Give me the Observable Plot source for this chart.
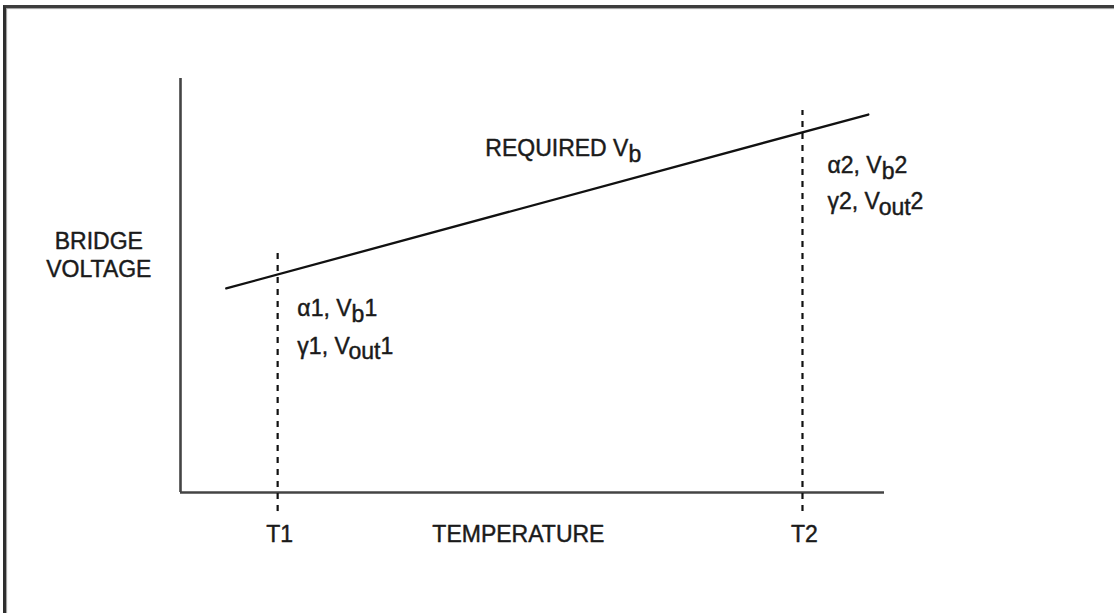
<!DOCTYPE html>
<html>
<head>
<meta charset="utf-8">
<script src="https://cdn.jsdelivr.net/npm/d3@7"></script>
<script src="https://cdn.jsdelivr.net/npm/@observablehq/plot@0.6"></script>
<style>
  html, body { margin: 0; padding: 0; background: #fff; }
  #wrap { position: absolute; left: 0; top: 0; width: 1114px; height: 613px; overflow: hidden; }
  #frame { position: absolute; left: 3px; top: 5px; right: 0; bottom: 0;
           border-top: 3px solid #3c3c3c; border-left: 3px solid #2e2e2e;
           box-shadow: inset 0 2px 1px -1px #999, inset 2px 0 1px -1px #999; pointer-events: none; }
  svg text { font-family: "Liberation Sans", Arial, Helvetica, sans-serif; }
</style>
</head>
<body>
<div id="wrap"><div id="frame"></div></div>
<script>
// Temperature positions (data units 0..100 along the x axis)
const tempNames = ["T1", "T2"];
const tempValues = [13.8, 88.35];
// top end of each dashed marker (bridge-voltage units)
const dashTop = [58.5, 92.3];
const dashBottom = -4.6;

// Required bridge voltage line: endpoints
const lineTemp = [6.5, 97.7];
const lineVolt = [49.3, 91.3];

// Annotations
const labelTexts = ["REQUIRED V_{b}", "α1, V_{b}1", "γ1, V_{out}1", "α2, V_{b}2", "γ2, V_{out}2"];
const labelX = [43.3, 16.6, 16.6, 91.9, 91.9];
const labelY = [83.1, 44.4, 35.3, 79.0, 70.3];

const xTitle = "TEMPERATURE";
const yTitle = "BRIDGE\nVOLTAGE";

const lineData = lineTemp.map((t, i) => ({t, v: lineVolt[i]}));
const markers = tempNames.map((n, i) => ({name: n, t: tempValues[i], top: dashTop[i], bottom: dashBottom}));
const labels = labelTexts.map((s, i) => ({s, x: labelX[i], y: labelY[i]}));

const fs = 23;
const ink = "#1a1a1a";
const textStyle = {fontSize: fs, fill: ink, stroke: ink, strokeWidth: 0.45};
const chart = Plot.plot({
  width: 1114,
  height: 613,
  marginLeft: 180,
  marginRight: 230,
  marginTop: 78,
  marginBottom: 121,
  x: {domain: [0, 100], axis: null},
  y: {domain: [0, 100], axis: null},
  style: {background: "transparent", overflow: "visible"},
  marks: [
    // axes
    Plot.ruleX([0], {y1: 0, y2: 100, stroke: "#444", strokeWidth: 2.6}),
    Plot.ruleY([0], {x1: 0, x2: 100, stroke: "#444", strokeWidth: 2.6}),
    // dashed temperature markers
    Plot.ruleX(markers, {x: "t", y1: "bottom", y2: "top", stroke: "#111", strokeWidth: 2.2, strokeDasharray: "6,6"}),
    // required Vb line
    Plot.line(lineData, {x: "t", y: "v", stroke: "#111", strokeWidth: 2.3}),
    // T labels
    Plot.text(markers, {x: "t", y: -10.1, text: "name", dx: 2, textAnchor: "middle", ...textStyle}),
    // axis titles
    Plot.text([xTitle], {x: 48.0, y: -10.1, text: d => d, textAnchor: "middle", ...textStyle}),
    Plot.text([yTitle], {x: -11.6, y: 57.5, text: d => d, textAnchor: "middle", lineHeight: 1.22, ...textStyle}),
    // annotations
    Plot.text(labels, {x: "x", y: "y", text: "s", textAnchor: "start", ...textStyle})
  ]
});

// turn _{...} into subscript tspans
const ns = "http://www.w3.org/2000/svg";
d3.select(chart).selectAll("text").each(function() {
  const el = this;
  const tspans = Array.from(el.querySelectorAll("tspan"));
  const targets = tspans.length ? tspans : [el];
  targets.forEach(node => {
    const s = node.textContent;
    if (!s.includes("_{")) return;
    node.textContent = "";
    const parts = s.split(/(_\{[^}]*\})/);
    let lowered = false;
    parts.forEach(p => {
      if (!p) return;
      const sub = p.startsWith("_{");
      const t = document.createElementNS(ns, "tspan");
      t.textContent = sub ? p.slice(2, -1) : p;
      if (sub && !lowered) { t.setAttribute("dy", "0.25em"); lowered = true; }
      else if (!sub && lowered) { t.setAttribute("dy", "-0.25em"); lowered = false; }
      node.appendChild(t);
    });
  });
});

document.getElementById("wrap").insertBefore(chart, document.getElementById("frame"));
</script>
</body>
</html>
